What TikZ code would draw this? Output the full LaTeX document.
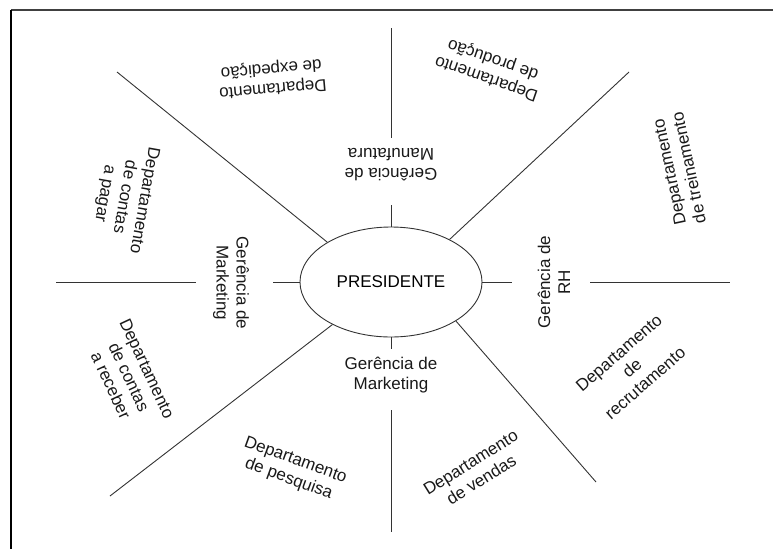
\documentclass[tikz,border=0pt]{standalone}
\usepackage{fontspec}
\setmainfont{Liberation Sans}
\usetikzlibrary{shapes.geometric}
\begin{document}
\begin{tikzpicture}[x=1pt,y=-1pt,
  ln/.style={draw=black!80,line width=0.9pt},
  lbl/.style={align=center,inner sep=0pt,font=\fontsize{17}{20}\selectfont,text=black!90}]
\useasboundingbox (0,0) rectangle (773,549);
% frame
\coordinate (ftl) at (11,10);
\coordinate (ftr) at (773,10);
\coordinate (fbl) at (11,549);
\draw[black!75,line width=1.3pt] (ftr) -- (ftl);
\draw[black,line width=1.8pt] (ftl) -- (fbl);
% president
\node[ellipse,draw=black!80,line width=0.9pt,minimum width=182pt,minimum height=110pt,inner sep=0pt,font=\fontsize{17}{20}\selectfont] (pres) at (391,282) {PRESIDENTE};
% tick ends
\coordinate (tn) at (391,205);
\coordinate (ts) at (391,349);
\coordinate (tw) at (273,282);
\coordinate (te) at (512,282);
\draw[ln] (pres.north) -- (tn);
\draw[ln] (pres.south) -- (ts);
\draw[ln] (pres.west) -- (tw);
\draw[ln] (pres.east) -- (te);
% long straight lines
\coordinate (n1) at (391,28);  \coordinate (n2) at (391,138);
\coordinate (s1) at (391,410); \coordinate (s2) at (391,532);
\coordinate (w1) at (56,282);  \coordinate (w2) at (196,282);
\coordinate (e1) at (590,282); \coordinate (e2) at (730,282);
\draw[ln] (n1) -- (n2);
\draw[ln] (s1) -- (s2);
\draw[ln] (w1) -- (w2);
\draw[ln] (e1) -- (e2);
% diagonals
\coordinate (ul) at (117,72);
\coordinate (ur) at (629,72);
\coordinate (ll) at (110,496);
\coordinate (lr) at (596,482);
\draw[ln] (ul) -- (pres.148);
\draw[ln] (ur) -- (pres.36.4);
\draw[ln] (ll) -- (pres.216.7);
\draw[ln] (lr) -- (pres.-31.5);
% managers
\node[lbl,rotate=180] (gman) at (391,165) {Gerência de\\Manufatura};
\node[lbl,rotate=-90] (gmkl) at (231,283) {Gerência de\\Marketing};
\node[lbl,rotate=90] (grh) at (554,282) {Gerência de\\RH};
\node[lbl] (gmkb) at (391,375) {Gerência de\\Marketing};
% departments
\node[lbl,rotate=185] (dexp) at (272,78) {Departamento\\de expedição};
\node[lbl,rotate=161] (dprod) at (490,68) {Departamento\\de produção};
\node[lbl,rotate=102] (dtrein) at (679,170) {Departamento\\de treinamento};
\node[lbl,rotate=41] (drec) at (632,368) {Departamento\\de\\recrutamento};
\node[lbl,rotate=32] (dvend) at (476,471) {Departamento\\de vendas};
\node[lbl,rotate=-20] (dpesq) at (292,470) {Departamento\\de pesquisa};
\node[lbl,rotate=-65] (dreceb) at (129,377) {Departamento\\de contas\\a receber};
\node[lbl,rotate=-100] (dpagar) at (124,197) {Departamento\\de contas\\a pagar};
\end{tikzpicture}
\end{document}
